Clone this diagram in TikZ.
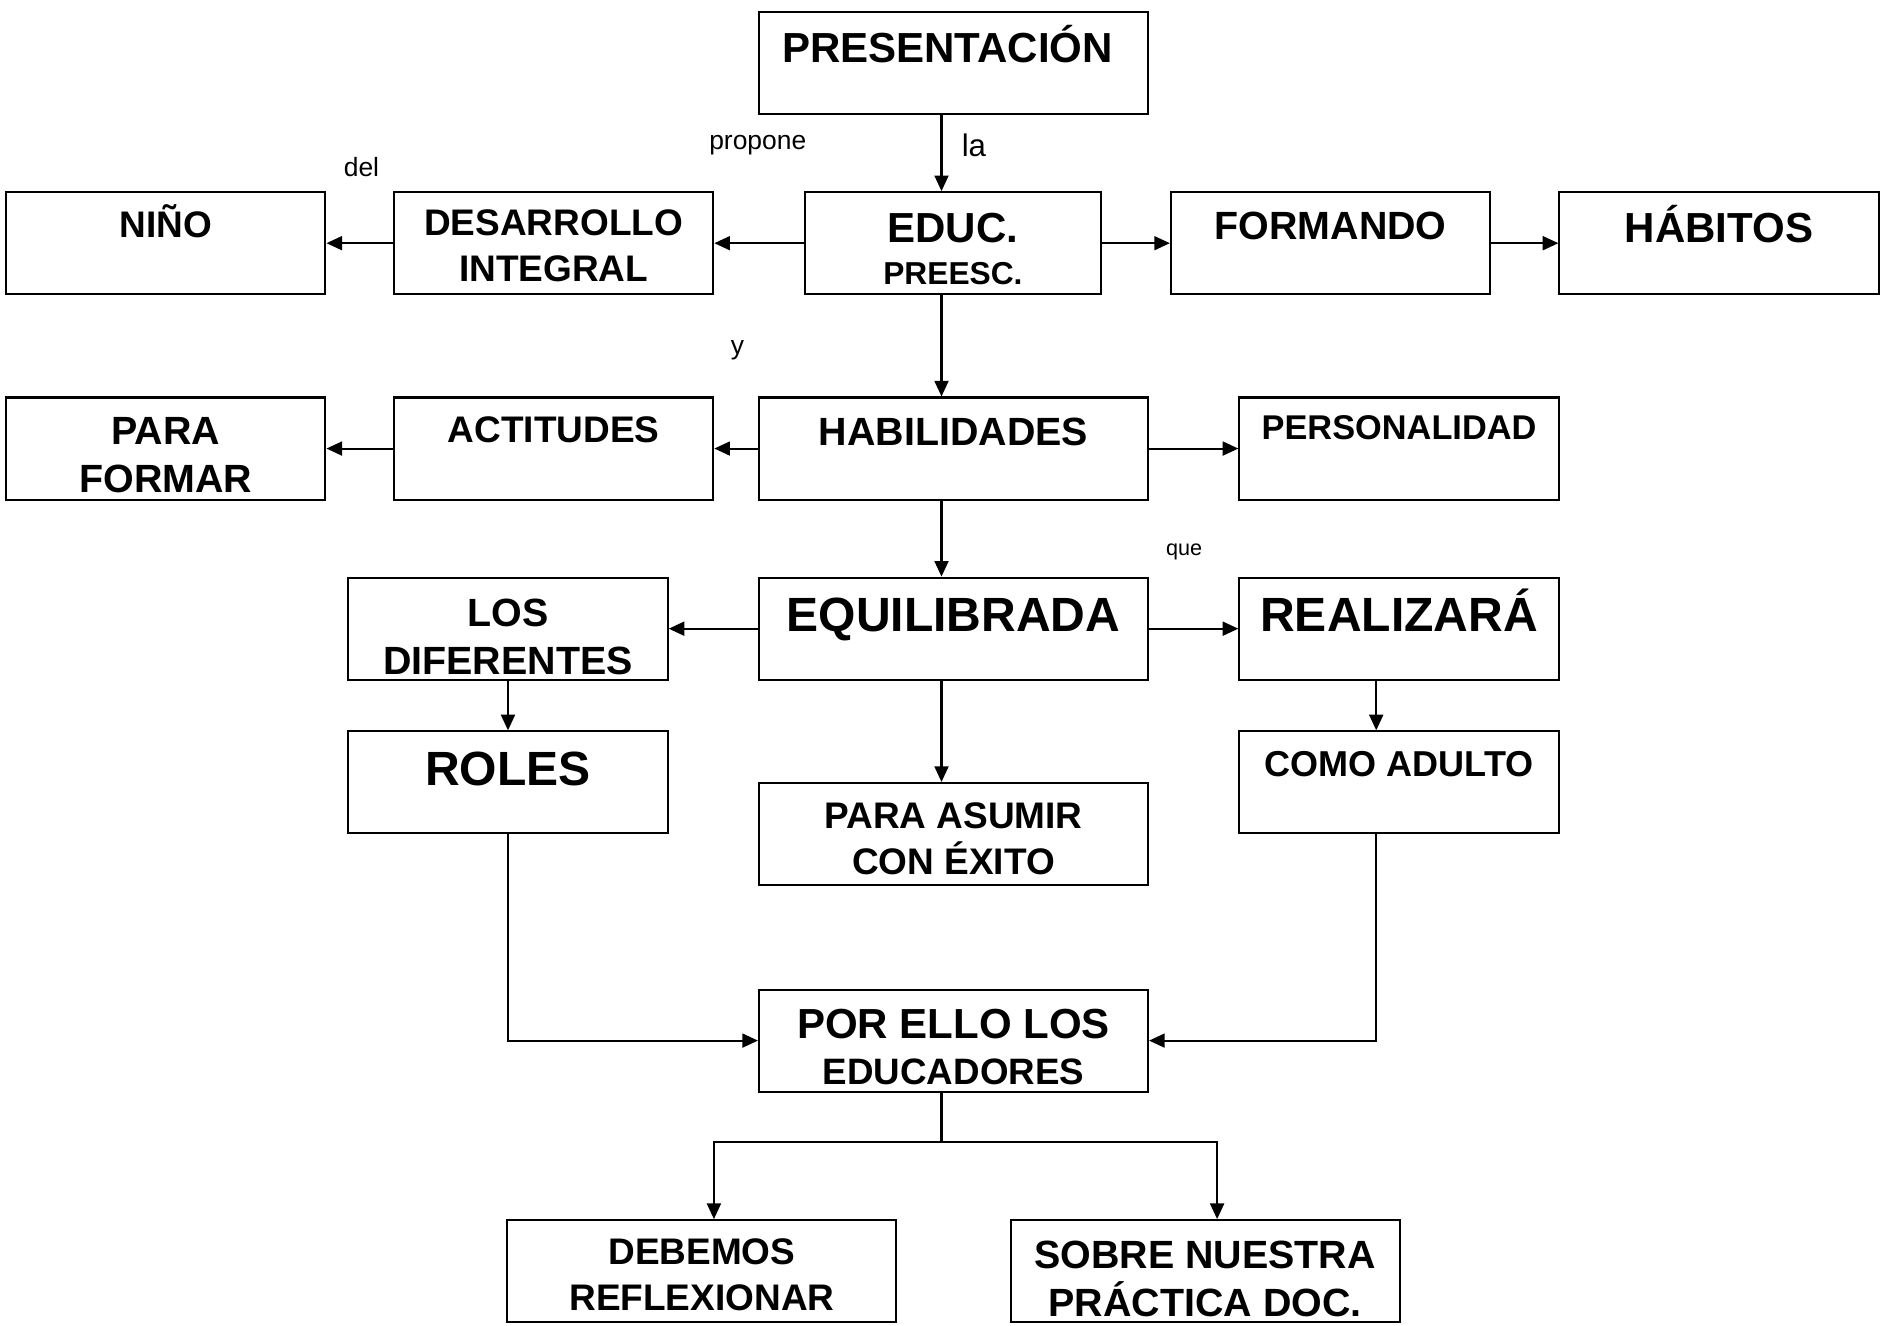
\documentclass[tikz,border=0pt]{standalone}
\usepackage{fontspec}
\setmainfont{Liberation Sans}
\usetikzlibrary{arrows.meta, positioning}
\tikzset{
  arrowK/.style={-{Triangle[length=6.5pt, width=5.8pt]}, black, line width=0.85pt},
  lineK/.style={black, line width=0.85pt},
  boxW/.style={rectangle, draw=black, line width=0.85pt, align=center,
               inner sep=0pt, minimum width=133pt, minimum height=42.5pt},
  boxWide/.style={boxW, minimum width=162pt},
  fXL/.style={font=\bfseries\fontsize{20}{24}\selectfont, text height=22.5pt, text depth=20pt},
  fL/.style={font=\bfseries\fontsize{17.5}{21.5}\selectfont, text height=21pt, text depth=21.5pt},
  fM/.style={font=\bfseries\fontsize{16.4}{20}\selectfont, text height=19.8pt, text depth=22.7pt},
  fS/.style={font=\bfseries\fontsize{15.4}{19}\selectfont, text height=18.7pt, text depth=23.8pt},
  fXS/.style={font=\bfseries\fontsize{14.3}{17.5}\selectfont, text height=17.5pt, text depth=25pt},
  note/.style={font=\fontsize{11}{13}\selectfont, inner sep=0pt},
}
\begin{document}
\begin{tikzpicture}[x=0.5pt, y=-0.5pt]
  \useasboundingbox (0,0) rectangle (1568,1104);
  % boxes
  \node[boxWide, fL] (pres) at (794,52.5) {PRESENTACIÓN\kern5pt};
  \node[boxW, fL, minimum width=123.5pt, text height=38.5pt, text depth=4pt] (educ) at (793.5,202.5)
    {EDUC.\\[-4pt]{\fontsize{13.2}{16}\selectfont PREESC.}};
  \node[boxW, fS, text height=37pt, text depth=5.5pt] (des) at (461,202.5) {DESARROLLO\\INTEGRAL};
  \node[boxW, fS] (nino) at (138,202.5) {NIÑO};
  \node[boxW, fM] (form) at (1108,202.5) {FORMANDO};
  \node[boxW, fL] (hab) at (1431.5,202.5) {HÁBITOS};
  \node[boxW, fM, text height=39.5pt, text depth=3pt] (pfor) at (138,373.5) {PARA\\FORMAR};
  \node[boxW, fS] (act) at (461,373.5) {ACTITUDES};
  \node[boxWide, fM] (habil) at (794,373.5) {HABILIDADES};
  \node[boxW, fXS] (pers) at (1165,373.5) {PERSONALIDAD};
  \node[boxW, fM, text height=40.5pt, text depth=2pt] (losd) at (423,523.5) {LOS\\DIFERENTES};
  \node[boxWide, fXL] (equi) at (794,523.5) {EQUILIBRADA};
  \node[boxW, fXL] (real) at (1165,523.5) {REALIZARÁ};
  \node[boxW, fXL] (roles) at (423,651.5) {ROLES};
  \node[boxWide, fS, text height=38pt, text depth=4.5pt] (asum) at (794,694.5) {PARA ASUMIR\\CON ÉXITO};
  \node[boxW, fS, font=\bfseries\fontsize{15}{18.5}\selectfont] (adul) at (1165,651.5) {COMO ADULTO};
  \node[boxWide, fL, text height=39.5pt, text depth=3pt] (ello) at (794,866.5)
    {POR ELLO LOS\\[-2.5pt]{\fontsize{15.3}{19}\selectfont EDUCADORES}};
  \node[boxWide, fS, text height=37.5pt, text depth=5pt] (debe) at (584.5,1058.5) {DEBEMOS\\REFLEXIONAR};
  \node[boxWide, fM, text height=40pt, text depth=2.5pt] (sobre) at (1003.5,1058.5) {SOBRE NUESTRA\\PRÁCTICA DOC.};
  % linking words
  \node[note] (lprop) at (631,121) {propone};
  \node[note, font=\fontsize{13}{15}\selectfont] (lla) at (811,121) {la};
  \node[note] (ldel) at (301,139) {del};
  \node[note] (ly) at (614,292) {y};
  \node[note, font=\fontsize{9}{11}\selectfont] (lque) at (986,460) {que};
  % connectors
  \coordinate (spine) at (784,0);
  \coordinate (rx) at (1146,0);
  \coordinate (split) at (784,951);
  \draw[arrowK] (pres.south -| spine) -- (educ.north -| spine);
  \draw[arrowK] (educ) -- (des);
  \draw[arrowK] (des) -- (nino);
  \draw[arrowK] (educ) -- (form);
  \draw[arrowK] (form) -- (hab);
  \draw[arrowK] (educ.south -| spine) -- (habil.north -| spine);
  \draw[arrowK] (habil) -- (act);
  \draw[arrowK] (act) -- (pfor);
  \draw[arrowK] (habil) -- (pers);
  \draw[arrowK] (habil.south -| spine) -- (equi.north -| spine);
  \draw[arrowK] (equi) -- (losd);
  \draw[arrowK] (equi) -- (real);
  \draw[arrowK] (losd) -- (roles);
  \draw[arrowK] (equi.south -| spine) -- (asum.north -| spine);
  \draw[arrowK] (real.south -| rx) -- (adul.north -| rx);
  \draw[arrowK] (roles.south) |- (ello.west);
  \draw[arrowK] (adul.south -| rx) |- (ello.east);
  \draw[lineK] (ello.south -| spine) -- (split);
  \draw[arrowK] (split) -| ([xshift=5pt]debe.north);
  \draw[arrowK] (split) -| ([xshift=5pt]sobre.north);
\end{tikzpicture}
\end{document}
